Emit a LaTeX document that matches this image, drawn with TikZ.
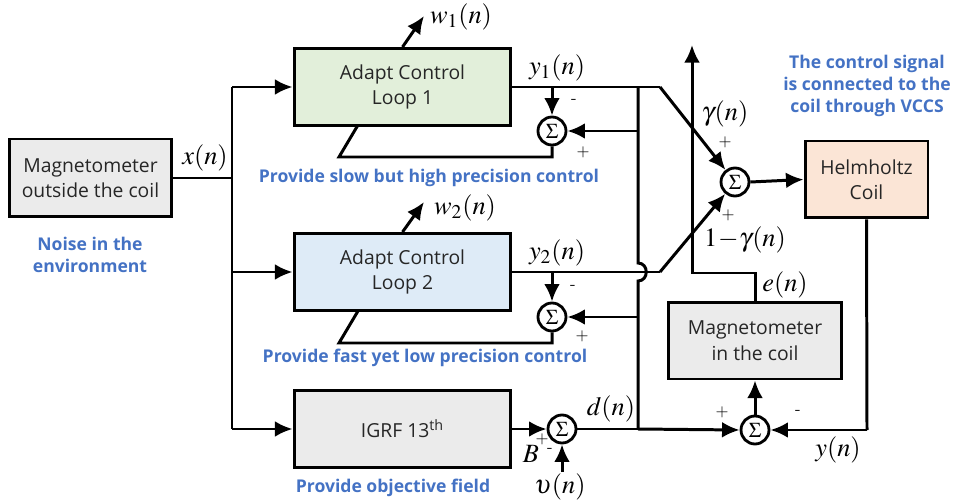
\documentclass[tikz,border=0pt]{standalone}
\usepackage{mathptmx}
\usepackage{fontspec}
\usepackage{tikz}
\usetikzlibrary{arrows.meta}

\newfontfamily\boxfont{Open Sans}
\definecolor{notecol}{HTML}{4472C4}
\definecolor{grayfill}{HTML}{EBEBEB}
\definecolor{greenfill}{HTML}{E2EFDA}
\definecolor{bluefill}{HTML}{DEEBF7}
\definecolor{peachfill}{HTML}{FBE5D6}

\tikzset{
	blk/.style={rectangle,draw,line width=1.7pt,align=center,text=black!85,
		font=\boxfont\fontsize{11}{14.5}\selectfont},
	sumnode/.style={circle,draw,line width=1.6pt,inner sep=0pt,minimum size=0.56cm,
		font=\fontsize{12}{12}\selectfont},
	note/.style={align=center,text=notecol,font=\boxfont\bfseries\fontsize{10}{12.5}\selectfont},
	sig/.style={font=\fontsize{15}{15}\selectfont},
	sgn/.style={font=\fontsize{9.5}{9.5}\selectfont}
}

\begin{document}
\begin{tikzpicture}[x=0.02cm,y=-0.02cm,line width=1.7pt,>={Latex[length=10pt,width=9pt]}]
		\useasboundingbox (0,0) rectangle (953,503);
%		\draw[help lines,step=50] (0,0) grid (953,503);
		\path (232,178) coordinate (bus);
		\path (638,87) coordinate (tap_top);
		\path (638,429) coordinate (tap_bot);
		\path (660,87) coordinate (y1_knee);
		\path (660,272) coordinate (y2_knee);
		\path (552,157) coordinate (fb1_r);
		\path (339,157) coordinate (fb1_l);
		\path (358,125) coordinate (fb1_in);
		\path (552,343) coordinate (fb2_r);
		\path (339,343) coordinate (fb2_l);
		\path (358,311) coordinate (fb2_in);
		\path (424,16) coordinate (w1_tip);
		\path (424,202) coordinate (w2_tip);
		\path (562,472) coordinate (noise_in);
		\path (867,430) coordinate (y_corner);
		\path (755,273) coordinate (e_knee);
		\path (692,273) coordinate (e_corner);
		\path (692,45) coordinate (e_tip);

		% blocks
		\node (magout) [blk,fill=grayfill,minimum width=3.26cm,minimum height=1.56cm] at (90.5,178) {Magnetometer\\outside the coil};
		\node (loop1) [blk,fill=greenfill,minimum width=4.34cm,minimum height=1.54cm] at (402.5,87) {Adapt Control\\Loop 1};
		\node (loop2) [blk,fill=bluefill,minimum width=4.34cm,minimum height=1.54cm] at (402.5,272) {Adapt Control\\Loop 2};
		\node (igrf) [blk,fill=grayfill,minimum width=4.34cm,minimum height=1.54cm] at (402.5,429) {IGRF 13\textsuperscript{th}};
		\node (magin) [blk,fill=grayfill,minimum width=3.46cm,minimum height=1.54cm] at (755,340.5) {Magnetometer\\in the coil};
		\node (helm) [blk,fill=peachfill,minimum width=2.46cm,minimum height=1.54cm] at (866.5,179.5) {Helmholtz\\Coil};

		\node (s1) [sumnode] at (552,131) {$\Sigma$};
		\node (s2) [sumnode] at (552,317) {$\Sigma$};
		\node (s3) [sumnode] at (562,429) {$\Sigma$};
		\node (s4) [sumnode] at (755,430) {$\Sigma$};
		\node (smain) [sumnode] at (735,182) {$\Sigma$};

		% notes
		\node (note_noise) [note] at (90,255) {Noise in the\\environment};
		\node (note_slow) [note] at (429,178) {Provide slow but high precision control};
		\node (note_fast) [note] at (425,358) {Provide fast yet low precision control};
		\node (note_obj) [note] at (393,488) {Provide objective field};
		\node (note_vccs) [note] at (867,86) {The control signal\\is connected to the\\coil through VCCS};

		% input distribution
		\draw (magout) -- (bus);
		\draw (bus |- loop1) -- (bus |- igrf);
		\draw[->] (bus |- loop1) -- (loop1.west);
		\draw[->] (bus |- loop2) -- (loop2.west);
		\draw[->] (bus |- igrf) -- (igrf.west);
		\node (x_lab) [sig] at (205,158) {$x(n)$};

		% loop 1
		\draw[->] (loop1.north) -- (w1_tip);
		\node (w1_lab) [sig] at (461,17) {$w_1(n)$};
		\draw (loop1.east) -- (y1_knee);
		\draw[->] (y1_knee) -- (smain);
		\draw[->] (s1 |- loop1.east) -- (s1.north);
		\draw[->] (tap_top |- s1) -- (s1.east);
		\draw (s1.south) -- (fb1_r) -- (fb1_l) -- (fb1_in);
		\node (y1_lab) [sig] at (557,68) {$y_1(n)$};
		\node (s1_m) [sgn] at (574,101) {-};
		\node (s1_p) [sgn] at (583,152) {+};

		% loop 2
		\draw[->] (loop2.north) -- (w2_tip);
		\node (w2_lab) [sig] at (465,208) {$w_2(n)$};
		\draw (loop2.east) -- (y2_knee);
		\draw[->] (y2_knee) -- (smain);
		\draw[->] (s2 |- loop2.east) -- (s2.north);
		\draw[->] (tap_top |- s2) -- (s2.east);
		\draw (s2.south) -- (fb2_r) -- (fb2_l) -- (fb2_in);
		\node (y2_lab) [sig] at (557,253) {$y_2(n)$};
		\node (s2_m) [sgn] at (573,287) {-};
		\node (s2_p) [sgn] at (582,336) {+};

		% desired field line with hop over y2
		\draw (tap_top) -- (638,263) .. controls (649,263) and (649,281) .. (638,281) -- (tap_bot);

		% IGRF branch
		\draw[->] (igrf.east) -- (s3.west);
		\draw[->] (noise_in) -- (s3.south);
		\draw (s3.east) -- (tap_bot);
		\draw[->] (tap_bot) -- (s4.west);
		\node (b_lab) [sig] at (531,454) {$B$};
		\node (s3_p) [sgn] at (542,439) {+};
		\node (s3_m) [sgn] at (550,450) {-};
		\node (v_lab) [sig] at (560,487) {$\upsilon(n)$};
		\node (d_lab) [sig] at (611,409) {$d(n)$};

		% coil and error
		\draw[->] (smain.east) -- (helm.west);
		\draw (helm.south) -- (y_corner);
		\draw[->] (y_corner) -- (s4.east);
		\draw[->] (s4.north) -- (magin.south);
		\draw[->] (magin.north) -- (e_knee) -- (e_corner) -- (e_tip);
		\node (s4_p) [sgn] at (722,412) {+};
		\node (s4_m) [sgn] at (798,412) {-};
		\node (y_lab) [sig] at (838,450) {$y(n)$};
		\node (e_lab) [sig] at (785,285) {$e(n)$};
		\node (g_lab) [sig] at (725,114) {$\gamma(n)$};
		\node (sm_p1) [sgn] at (725,142) {+};
		\node (sm_p2) [sgn] at (728,215) {+};
		\node (g2_lab) [sig] at (745,240) {$1\!-\!\gamma(n)$};
	\end{tikzpicture}
\end{document}
